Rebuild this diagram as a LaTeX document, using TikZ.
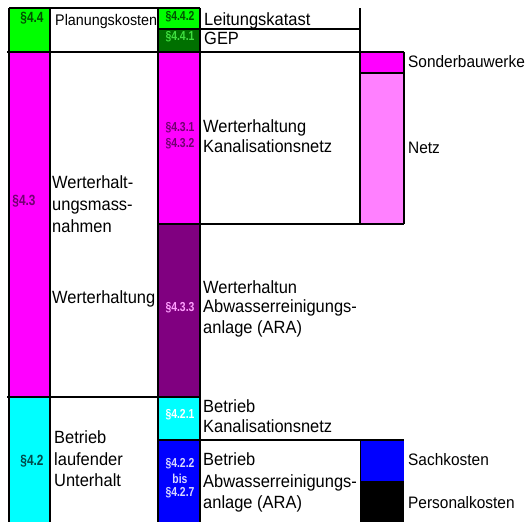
\documentclass[tikz,border=0pt]{standalone}
\usepackage{fontspec}
\setmainfont{Liberation Sans}[FakeStretch=0.93]
\newfontfamily\secfont{Liberation Sans}[FakeStretch=0.8]
\definecolor{cgreen}{HTML}{00FF00}
\definecolor{cdkgreen}{HTML}{007000}
\definecolor{cmag}{HTML}{FF00FF}
\definecolor{cpurple}{HTML}{800080}
\definecolor{cpink}{HTML}{FF80FF}
\definecolor{ccyan}{HTML}{00FFFF}
\definecolor{cblue}{HTML}{0000FF}
\definecolor{ctxtgreen}{HTML}{005000}
\definecolor{ctxtlgreen}{HTML}{40E040}
\definecolor{ctxtpurple}{HTML}{700070}
\definecolor{ctxtpink}{HTML}{FFA0FF}
\definecolor{ctxtteal}{HTML}{004848}
\definecolor{ctxtlblue}{HTML}{D8D8FF}
\begin{document}
\begin{tikzpicture}[x=1pt,y=-1pt,
  grid/.style={line width=1.5pt,black},
  lab/.style={anchor=base west,inner sep=0pt,font=\fontsize{17.7}{21}\selectfont},
  sidelab/.style={anchor=base west,inner sep=0pt,font=\fontsize{16.6}{20}\selectfont},
  sec/.style={anchor=base,inner sep=0pt,font=\secfont\bfseries\fontsize{13}{15}\selectfont},
  bigsec/.style={anchor=base,inner sep=0pt,font=\secfont\bfseries\fontsize{14.8}{17}\selectfont}]
\useasboundingbox (0,0) rectangle (531,522);
% fills column 1
\fill[cgreen] (9,8) rectangle (50,52);
\fill[cmag] (9,52) rectangle (50,397);
\fill[ccyan] (9,397) rectangle (50,522);
% fills column 3
\fill[cgreen] (158,8) rectangle (200,29);
\fill[cdkgreen] (158,29) rectangle (200,52);
\fill[cmag] (158,52) rectangle (200,224);
\fill[cpurple] (158,224) rectangle (200,397);
\fill[ccyan] (158,397) rectangle (200,440);
\fill[cblue] (158,440) rectangle (200,522);
% fills column 5
\fill[cmag] (360,52) rectangle (404,73);
\fill[cpink] (360,73) rectangle (404,224);
\fill[cblue] (360,440) rectangle (404,481);
\fill[black] (360,481) rectangle (404,522);
% grid lines
\draw[grid] (9,8) -- (9,522);
\draw[grid] (50,8) -- (50,522);
\draw[grid] (158,8) -- (158,522);
\draw[grid] (200,8) -- (200,522);
\draw[grid] (360,8) -- (360,224);
\draw[grid] (404,52) -- (404,224);
\draw[grid] (9,8) -- (200,8);
\draw[grid] (158,29) -- (360,29);
\draw[grid] (7,52) -- (404,52);
\draw[grid] (360,73) -- (404,73);
\draw[grid] (158,224) -- (404,224);
\draw[grid] (7,397) -- (200,397);
\draw[grid] (158,440) -- (404,440);
\draw[line width=0.8pt] (360,440) -- (360,522);
% column 1 labels
\node[bigsec,text=ctxtgreen] (s44) at (32,23) {§4.4};
\node[bigsec,text=ctxtpurple] (s43) at (24,205) {§4.3};
\node[bigsec,text=ctxtteal] (s42) at (32,465) {§4.2};
% column 2 labels
\node[lab,font=\fontsize{15.4}{18}\selectfont] (plan) at (55,25) {Planungskosten};
\node[lab] (wm1) at (52,188) {Werterhalt-};
\node[lab] (wm2) at (52,210) {ungsmass-};
\node[lab] (wm3) at (52,232) {nahmen};
\node[lab] (wert) at (52,303) {Werterhaltung};
\node[lab] (bl1) at (54,443) {Betrieb};
\node[lab] (bl2) at (54,465) {laufender};
\node[lab] (bl3) at (54,486) {Unterhalt};
% column 3 labels
\node[sec,text=ctxtgreen] (s442) at (180,20) {§4.4.2};
\node[sec,text=ctxtlgreen] (s441) at (180,41) {§4.4.1};
\node[sec,text=ctxtpurple] (s431) at (180,131) {§4.3.1};
\node[sec,text=ctxtpurple] (s432) at (180,147) {§4.3.2};
\node[sec,text=ctxtpink] (s433) at (180,311) {§4.3.3};
\node[sec,text=white] (s421) at (180,418) {§4.2.1};
\node[sec,text=ctxtlblue] (s422) at (180,467) {§4.2.2};
\node[sec,text=ctxtlblue] (sbis) at (180,483) {bis};
\node[sec,text=ctxtlblue] (s427) at (180,496) {§4.2.7};
% column 4 labels
\node[lab] (leit) at (204,26) {Leitungskatast};
\node[lab] (gep) at (204,44) {GEP};
\node[lab] (wk1) at (203,132.5) {Werterhaltung};
\node[lab] (wk2) at (203,152.5) {Kanalisationsnetz};
\node[lab] (wa1) at (203,293) {Werterhaltun};
\node[lab] (wa2) at (203,312.5) {Abwasserreinigungs-};
\node[lab] (wa3) at (203,333) {anlage (ARA)};
\node[lab] (bk1) at (203,412) {Betrieb};
\node[lab] (bk2) at (203,432) {Kanalisationsnetz};
\node[lab] (ba1) at (203,465) {Betrieb};
\node[lab] (ba2) at (203,487) {Abwasserreinigungs-};
\node[lab] (ba3) at (203,508) {anlage (ARA)};
% column 5 labels
\node[sidelab] (sonder) at (408,67) {Sonderbauwerke};
\node[sidelab] (netz) at (408,153) {Netz};
\node[sidelab] (sach) at (408,465) {Sachkosten};
\node[sidelab] (pers) at (408,508) {Personalkosten};
\end{tikzpicture}
\end{document}
